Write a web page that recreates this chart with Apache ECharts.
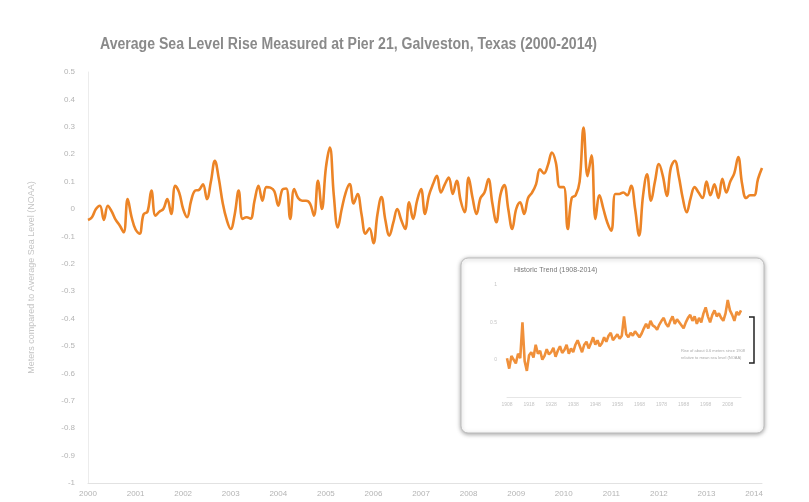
<!DOCTYPE html>
<html lang="en">
<head>
    <meta charset="UTF-8"/>
    <title>Average Sea Level Rise - Galveston</title>
    <script src="https://cdn.jsdelivr.net/npm/echarts@6/dist/echarts.min.js"></script>
    <style>
        html, body { margin: 0; padding: 0; background: #fff; }
        #chart { width: 809px; height: 502px; }
    </style>
</head>
<body>
<div id="chart"></div>
<script type="text/javascript">
    // monthly values, Jan 2000 .. Mar 2014 (meters vs. average sea level)
    var startYear = 2000;
    var seaLevel = [
        -0.04, -0.03, 0.0, 0.012, -0.04, 0.012, -0.01, -0.04, -0.06, -0.085, 0.036, -0.03,
        -0.075, -0.09, -0.02, -0.01, 0.067, -0.024, -0.01, 0.0, 0.036, -0.018, 0.085, 0.06,
        0.0, -0.03, 0.03, 0.067, 0.07, 0.09, 0.036, 0.1, 0.176, 0.11, 0.02, -0.04,
        -0.073, -0.02, 0.067, -0.036, -0.03, -0.035, 0.03, 0.085, 0.03, 0.08, 0.078, 0.065,
        0.012, 0.07, 0.075, -0.036, 0.073, 0.04, 0.03, 0.03, 0.02, -0.024, 0.103, 0.0,
        0.15, 0.224, 0.05, -0.067, 0.0, 0.06, 0.091, 0.02, 0.055, -0.02, -0.09, -0.07,
        -0.125, -0.02, 0.044, -0.04, -0.097, -0.05, 0.0, -0.04, -0.073, 0.024, -0.036, 0.03,
        0.073, -0.018, 0.05, 0.09, 0.121, 0.06, 0.09, 0.115, 0.055, 0.103, 0.03, -0.012,
        0.115, 0.04, -0.018, 0.04, 0.06, 0.109, 0.02, -0.048, 0.05, 0.087, 0.0, -0.073,
        0.0, 0.024, -0.018, 0.04, 0.06, 0.09, 0.145, 0.13, 0.16, 0.206, 0.17, 0.08,
        0.08, -0.073, 0.04, 0.05, 0.1, 0.297, 0.12, 0.196, -0.036, 0.05, 0.0, -0.05,
        -0.079, 0.055, 0.055, 0.06, 0.05, 0.085, 0.0, -0.097, 0.05, 0.127, 0.03, 0.1,
        0.164, 0.12, 0.048, 0.15, 0.176, 0.12, 0.04, -0.012, 0.04, 0.08, 0.06, 0.04,
        0.1, 0.05, 0.09, 0.04, 0.11, 0.06, 0.1, 0.13, 0.19, 0.09, 0.04, 0.05,
        0.05, 0.11, 0.15
    ];

    // inset: yearly values 1908..2014 (historic trend)
    var insetStartYear = 1908;
    var historic = [
        0.02, -0.12, 0.05, 0.0, -0.05, 0.08, 0.02, 0.5, -0.02, -0.15,
        0.06, 0.1, 0.03, 0.2, 0.08, 0.12, 0.0, 0.05, 0.14, 0.07,
        0.1, 0.16, 0.04, 0.12, 0.18, 0.09, 0.13, 0.2, 0.08, 0.15,
        0.1, 0.2, 0.26, 0.18, 0.1, 0.2, 0.24, 0.15, 0.22, 0.3,
        0.2, 0.26, 0.18, 0.22, 0.3, 0.24, 0.32, 0.36, 0.26, 0.3,
        0.34, 0.28, 0.32, 0.58, 0.34, 0.3, 0.36, 0.32, 0.38, 0.34,
        0.3, 0.35, 0.42, 0.48, 0.42, 0.52, 0.46, 0.44, 0.4, 0.47,
        0.52, 0.56, 0.48, 0.44, 0.52, 0.58, 0.48, 0.54, 0.5, 0.46,
        0.42, 0.5, 0.56, 0.6, 0.52, 0.58, 0.48, 0.56, 0.5, 0.62,
        0.7, 0.58, 0.5, 0.6, 0.66, 0.58, 0.62, 0.56, 0.52, 0.62,
        0.8, 0.66, 0.6, 0.52, 0.64, 0.6, 0.66
    ];

    var months = [];
    for (var i = 0; i < seaLevel.length; i++) {
        months.push((startYear + Math.floor(i / 12)) + '-' + ((i % 12) + 1));
    }
    var historicPoints = [];
    for (var j = 0; j < historic.length; j++) {
        historicPoints.push([insetStartYear + j, historic[j]]);
    }

    var orange = '#EC8426';
    var labelGrey = '#b4b4b4';

    var myChart = echarts.init(document.getElementById('chart'));
    var option = {
        backgroundColor: '#fff',
        animation: false,
        grid: [
            {left: 88, right: 47, top: 72, bottom: 19},
            {left: 507, right: 68, top: 285, bottom: 105}
        ],
        xAxis: [
            {
                gridIndex: 0,
                type: 'category',
                data: months,
                boundaryGap: false,
                axisLine: {onZero: false, lineStyle: {color: '#e2e2e2'}},
                axisTick: {show: false},
                axisLabel: {
                    interval: function (idx) { return idx % 12 === 0; },
                    formatter: function (v) { return v.slice(0, 4); },
                    color: labelGrey,
                    fontSize: 8,
                    margin: 7,
                    fontFamily: 'Liberation Sans'
                },
                splitLine: {show: false}
            },
            {
                gridIndex: 1,
                type: 'value',
                min: 1908,
                max: 2014,
                interval: 10,
                axisLine: {onZero: false, lineStyle: {color: '#e6e6e6'}},
                axisTick: {show: false},
                axisLabel: {
                    color: '#c4c4c4',
                    fontSize: 5,
                    margin: 5,
                    showMaxLabel: false,
                    formatter: function (v) { return String(v); }
                },
                splitLine: {show: false}
            }
        ],
        yAxis: [
            {
                gridIndex: 0,
                type: 'value',
                min: -1,
                max: 0.5,
                interval: 0.1,
                name: 'Meters compared to Average Sea Level (NOAA)',
                nameLocation: 'middle',
                nameGap: 52,
                nameTextStyle: {color: '#c4c4c4', fontSize: 9, fontFamily: 'Liberation Sans'},
                axisLine: {show: true, lineStyle: {color: '#ececec'}},
                axisTick: {show: false},
                axisLabel: {
                    color: labelGrey,
                    fontSize: 8,
                    margin: 13,
                    fontFamily: 'Liberation Sans',
                    formatter: function (v) { return String(Math.round(v * 10) / 10); }
                },
                splitLine: {show: false}
            },
            {
                gridIndex: 1,
                type: 'value',
                min: -0.5,
                max: 1,
                interval: 0.5,
                axisLine: {show: false},
                axisTick: {show: false},
                axisLabel: {color: '#c4c4c4', fontSize: 5, margin: 10, showMinLabel: false},
                splitLine: {show: false}
            }
        ],
        graphic: [
            {
                // condensed title
                type: 'text',
                z: 5,
                x: 100,
                y: 37,
                scaleX: 0.88,
                style: {
                    text: 'Average Sea Level Rise Measured at Pier 21, Galveston, Texas (2000-2014)',
                    fill: '#8a8a8a',
                    fontSize: 16,
                    fontWeight: 'bold',
                    fontFamily: "'Liberation Sans', sans-serif"
                }
            },
            {
                type: 'rect',
                z: 0,
                shape: {x: 461, y: 258, width: 303, height: 175, r: 7},
                style: {
                    fill: '#fff',
                    stroke: '#bdbdbd',
                    lineWidth: 1,
                    shadowBlur: 4,
                    shadowOffsetY: 1,
                    shadowColor: 'rgba(0,0,0,0.35)'
                }
            },
            {
                type: 'text',
                z: 5,
                left: 514,
                top: 267,
                style: {
                    text: 'Historic Trend (1908-2014)',
                    fill: '#777',
                    fontSize: 7,
                    fontFamily: "'Liberation Sans', sans-serif"
                }
            },
            {
                type: 'polyline',
                z: 5,
                shape: {points: [[749, 317], [754, 317], [754, 363], [749, 363]]},
                style: {stroke: '#222', lineWidth: 1.5, fill: null}
            },
            {
                type: 'text',
                z: 5,
                right: 64,
                top: 347,
                style: {
                    text: 'Rise of about 0.6 meters since 1908\nrelative to mean sea level (NOAA)',
                    fill: '#aaa',
                    fontSize: 4,
                    lineHeight: 7,
                    align: 'right',
                    fontFamily: 'Liberation Sans'
                }
            }
        ],
        series: [
            {
                name: 'Sea level',
                type: 'line',
                xAxisIndex: 0,
                yAxisIndex: 0,
                data: seaLevel,
                smooth: 0.4,
                showSymbol: false,
                lineStyle: {color: orange, width: 2.6},
                z: 3
            },
            {
                name: 'Historic',
                type: 'line',
                xAxisIndex: 1,
                yAxisIndex: 1,
                data: historicPoints,
                showSymbol: false,
                lineStyle: {color: '#F0903A', width: 2.6},
                z: 4
            }
        ]
    };
    myChart.setOption(option);
</script>
</body>
</html>
